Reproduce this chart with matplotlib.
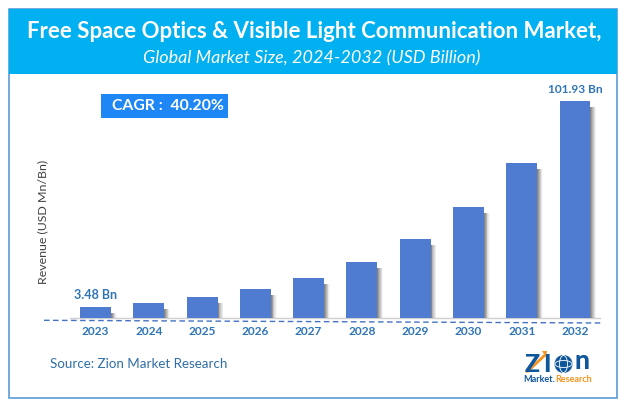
import matplotlib
matplotlib.use("Agg")
import matplotlib.pyplot as plt
from matplotlib.patches import Rectangle, Circle, Ellipse, Polygon

years = ["2023", "2024", "2025", "2026", "2027", "2028", "2029", "2030", "2031", "2032"]
revenue = [3.48, 5.4, 8.3, 12.1, 17.4, 25.0, 36.0, 51.3, 72.3, 101.93]
first_label = "3.48 Bn"
last_label = "101.93 Bn"

plt.rcParams["font.family"] = ["Lato", "DejaVu Sans"]

W, H = 625, 408
BLUE = "#4F7BD1"
TEXT_BLUE = "#2E75B6"
fig = plt.figure(figsize=(W / 100, H / 100), dpi=100, facecolor="white")

# overlay in pixel coordinates for header, frame, logo
bg = fig.add_axes([0, 0, 1, 1])
bg.set_xlim(0, W)
bg.set_ylim(H, 0)
bg.axis("off")
bg.add_patch(Rectangle((8.5, 8.5), 608.5, 389.5, fc="white", ec="#5B9BD5", lw=1.2))
bg.add_patch(Rectangle((9, 9), 608, 65, fc="#00B0F0", ec="none"))
bg.text(314, 31, "Free Space Optics & Visible Light Communication Market,", color="white",
        fontsize=16, fontweight="bold", ha="center", va="center")
bg.text(312, 58, "Global Market Size, 2024-2032 (USD Billion)", color="white",
        fontsize=13, style="italic", ha="center", va="center")

bg.add_patch(Rectangle((101, 94), 127, 24, fc="#1E87F5", ec="none"))
bg.text(168, 106.5, "CAGR :  40.20%", color="white", fontsize=11.3, fontweight="bold",
        ha="center", va="center")

# bars
ax = fig.add_axes([44 / W, (H - 317.5) / H, (600 - 44) / W, (317.5 - 90) / H])
ax.patch.set_alpha(0)
x = list(range(len(years)))
ax.set_xlim(-0.967, 9.47)
ax.set_ylim(-1.53, 107.2)

# soft shadow on the right side of each bar
shadow_steps = [(0.11, 0.04), (0.095, 0.06), (0.08, 0.09), (0.065, 0.12),
                (0.05, 0.15), (0.035, 0.2), (0.02, 0.25)]
for off, alpha in shadow_steps:
    ax.bar([i + off for i in x], [v - 1.2 for v in revenue], width=0.58, bottom=-1.53,
           color="#404040", alpha=alpha, linewidth=0, zorder=1)
ax.bar(x, revenue, width=0.58, bottom=0, color=BLUE, linewidth=0, zorder=3)
ax.bar(x, [1.53] * len(x), width=0.58, bottom=-1.53, color=BLUE, linewidth=0, zorder=3)

for s in ["top", "right", "left", "bottom"]:
    ax.spines[s].set_visible(False)
ax.set_yticks([])
ax.set_xticks(x)
ax.set_xticklabels(years, fontsize=8.6, fontweight="bold", color=TEXT_BLUE)
ax.tick_params(axis="x", length=0, pad=6)

ax.annotate(first_label, (x[0], revenue[0]), xytext=(0, 4), textcoords="offset points",
            ha="center", va="bottom", fontsize=9, fontweight="bold", color=TEXT_BLUE)
ax.annotate(last_label, (x[-1], revenue[-1]), xytext=(0, 4.5), textcoords="offset points",
            ha="center", va="bottom", fontsize=8.6, fontweight="bold", color=TEXT_BLUE)

# baseline and dashed line
bg.plot([70, 600], [317.5, 317.5], color="#D0D0D0", lw=1, zorder=2)
bg.plot([44, 602], [320.3, 323], color="#4472C4", lw=1, ls=(0, (4, 2.5)), zorder=2)

bg.text(43, 222, "Revenue (USD Mn/Bn)", rotation=90, fontsize=8.9, color="#404040",
        ha="center", va="center")
bg.text(50, 364, "Source: Zion Market Research", fontsize=9.6, color="#2F6EA8",
        ha="left", va="center")

# logo
NAVY = "#10569B"
ORANGE = "#F7941D"
logo = fig.add_axes([0, 0, 1, 1])
logo.set_xlim(0, W)
logo.set_ylim(H, 0)
logo.axis("off")
logo.text(525, 364, "Z", fontsize=18, fontweight="black", color=NAVY, ha="left", va="center")
logo.text(543, 364, "I", fontsize=18, fontweight="black", color=NAVY, ha="left", va="center")
logo.add_patch(Polygon([[525, 372], [544, 354], [546, 356], [528, 373]], fc=ORANGE, ec="none"))
logo.add_patch(Polygon([[542, 351], [547, 351], [546, 357]], fc=ORANGE, ec="none"))
logo.add_patch(Circle((563.5, 364), 9, fc=NAVY, ec="none"))
logo.add_patch(Ellipse((563.5, 364), 8, 17, fc="none", ec="white", lw=0.6))
logo.add_patch(Ellipse((563.5, 364), 17, 7, fc="none", ec="white", lw=0.6))
logo.text(574, 361, "n", fontsize=19, fontweight="black", color=NAVY, ha="left", va="center")
logo.text(523, 379, "Market.", fontsize=6.5, fontweight="bold", color=NAVY, ha="left", va="center")
logo.text(555, 379, "Research", fontsize=6.5, fontweight="bold", color=ORANGE, ha="left", va="center")

fig.savefig("out.png", dpi=100)
plt.close(fig)
